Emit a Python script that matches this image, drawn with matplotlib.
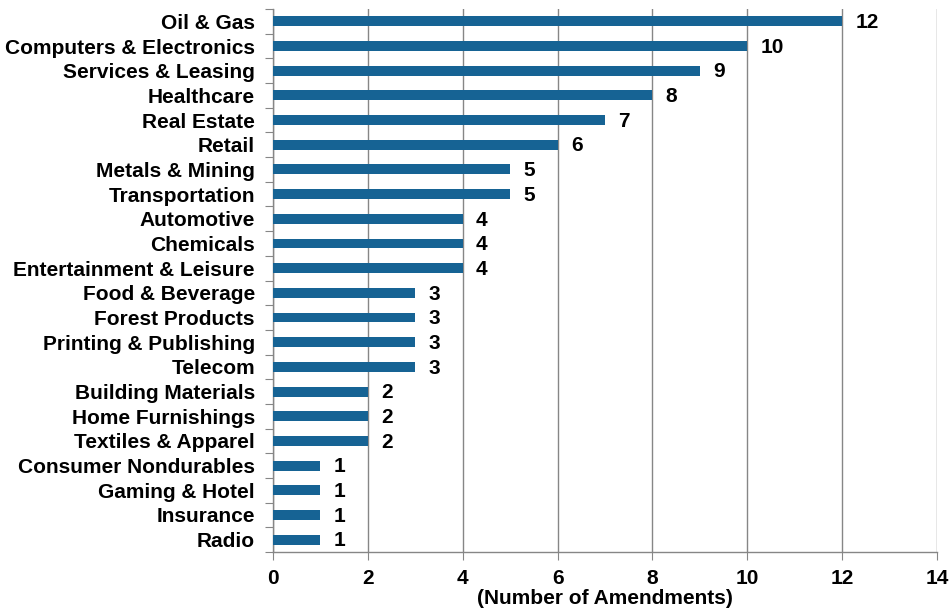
import matplotlib
matplotlib.use('Agg')
import matplotlib.pyplot as plt
import numpy as np

plt.rcParams['font.family'] = ['Liberation Sans', 'DejaVu Sans']

industries = ['Oil & Gas', 'Computers & Electronics', 'Services & Leasing', 'Healthcare',
              'Real Estate', 'Retail', 'Metals & Mining', 'Transportation', 'Automotive',
              'Chemicals', 'Entertainment & Leisure', 'Food & Beverage', 'Forest Products',
              'Printing & Publishing', 'Telecom', 'Building Materials', 'Home Furnishings',
              'Textiles & Apparel', 'Consumer Nondurables', 'Gaming & Hotel', 'Insurance', 'Radio']
amendments = [12, 10, 9, 8, 7, 6, 5, 5, 4, 4, 4, 3, 3, 3, 3, 2, 2, 2, 1, 1, 1, 1]
xticks = [0, 2, 4, 6, 8, 10, 12, 14]

bar_color = '#166394'
grid_color = '#868686'
fs = 15

fig = plt.figure(figsize=(9.49, 6.12), dpi=100)
ax = fig.add_axes([273 / 949, 1 - 552 / 612, 664 / 949, 543 / 612])

y = np.arange(len(industries))
ax.barh(y, amendments, height=0.4, color=bar_color, zorder=3)
ax.set_ylim(len(industries) - 0.5, -0.5)
ax.set_xlim(0, 14)
ax.set_xticks(xticks)
ax.set_yticks(np.arange(len(industries) + 1) - 0.5, minor=False)
ax.set_yticklabels([])
ax.set_yticks(y, minor=True)
ax.set_yticklabels(industries, minor=True, fontsize=fs, fontweight='bold')
ax.tick_params(axis='y', which='minor', length=0, pad=13)
ax.tick_params(axis='y', which='major', length=6, color=grid_color, direction='out')
ax.tick_params(axis='x', length=6, color=grid_color, direction='out', labelsize=fs, pad=6)
for lbl in ax.get_xticklabels():
    lbl.set_fontweight('bold')

ax.grid(axis='x', color=grid_color, linewidth=1, zorder=0)
for s in ['top', 'right']:
    ax.spines[s].set_visible(False)
for s in ['left', 'bottom']:
    ax.spines[s].set_color(grid_color)
    ax.spines[s].set_linewidth(1)

for yi, v in zip(y, amendments):
    ax.text(v + 0.28, yi + 0.05, str(v), va='center', ha='left', fontsize=fs, fontweight='bold')

ax.set_xlabel('(Number of Amendments)', fontsize=fs, fontweight='bold', labelpad=1)

fig.savefig('out.png', dpi=100)
